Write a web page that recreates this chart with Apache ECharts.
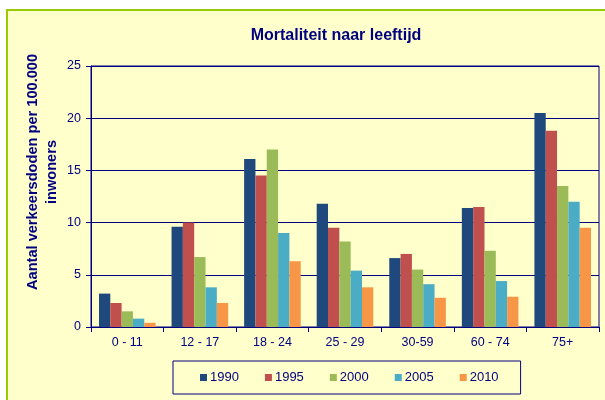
<!DOCTYPE html>
<html>
<head>
<meta charset="utf-8">
<script src="https://cdn.jsdelivr.net/npm/echarts@6/dist/echarts.min.js"></script>
<style>
html,body{margin:0;padding:0;background:#ffffff;}
#chart{width:605px;height:400px;}
</style>
</head>
<body>
<div id="chart"></div>
<script>
var categories = ['0 - 11', '12 - 17', '18 - 24', '25 - 29', '30-59', '60 - 74', '75+'];
var years = ['1990', '1995', '2000', '2005', '2010'];
var v1990 = [3.2, 9.6, 16.1, 11.8, 6.6, 11.4, 20.5];
var v1995 = [2.3, 10.0, 14.5, 9.5, 7.0, 11.5, 18.8];
var v2000 = [1.5, 6.7, 17.0, 8.2, 5.5, 7.3, 13.5];
var v2005 = [0.8, 3.8, 9.0, 5.4, 4.1, 4.4, 12.0];
var v2010 = [0.4, 2.3, 6.3, 3.8, 2.8, 2.9, 9.5];
var yTicks = [0, 5, 10, 15, 20, 25];

var colors = ['#1F497D', '#C0504D', '#9BBB59', '#4BACC6', '#F79646'];
var seriesData = [v1990, v1995, v2000, v2005, v2010];
var navy = '#000080';
var font = 'Liberation Sans, Arial, sans-serif';

var chart = echarts.init(document.getElementById('chart'), null, {renderer: 'canvas'});
var option = {
  animation: false,
  backgroundColor: '#ffffff',
  color: colors,
  graphic: [
    {type: 'rect', z: -10, silent: true, shape: {x: 7, y: 10, width: 700, height: 500},
     style: {fill: '#FFFFCC', stroke: '#99CC00', lineWidth: 2}},
    {type: 'text', z: 10, x: 42, y: 172, rotation: Math.PI / 2,
     style: {text: 'Aantal verkeersdoden per 100.000\ninwoners', fill: navy,
       font: 'bold 14.6px ' + font, align: 'center', verticalAlign: 'middle', lineHeight: 19}}
  ],
  title: {
    text: 'Mortaliteit naar leeftijd', left: 331, top: 23, textAlign: 'center',
    textStyle: {color: navy, fontSize: 16, fontWeight: 'bold', fontFamily: font}
  },
  grid: {left: 91, right: 6, top: 66, bottom: 73, show: true, borderColor: navy, borderWidth: 1, backgroundColor: 'transparent'},
  legend: {
    data: years, left: 173, top: 361, orient: 'horizontal',
    itemWidth: 7, itemHeight: 7, itemGap: 26, icon: 'rect',
    padding: [10, 22, 10, 27],
    borderColor: navy, borderWidth: 1, backgroundColor: '#FFFFCC',
    textStyle: {color: navy, fontSize: 13, fontFamily: font, padding: [0, 0, 0, -2]}
  },
  xAxis: {
    type: 'category', data: categories,
    axisLine: {lineStyle: {color: navy, width: 1}},
    axisTick: {show: true, alignWithLabel: false, length: 5, lineStyle: {color: navy}},
    axisLabel: {color: navy, fontSize: 12.5, fontFamily: font, margin: 9}
  },
  yAxis: {
    type: 'value', min: yTicks[0], max: yTicks[yTicks.length - 1], interval: 5,
    axisLine: {show: true, lineStyle: {color: navy, width: 1}},
    axisTick: {show: true, length: 5, lineStyle: {color: navy}},
    axisLabel: {color: navy, fontSize: 12.5, fontFamily: font, margin: 10},
    splitLine: {show: true, lineStyle: {color: navy, width: 1}}
  },
  series: years.map(function (y, i) {
    return {
      name: y, type: 'bar', data: seriesData[i],
      barGap: '0%', barCategoryGap: '22%',
      itemStyle: {color: colors[i]}
    };
  })
};
chart.setOption(option);
</script>
</body>
</html>
